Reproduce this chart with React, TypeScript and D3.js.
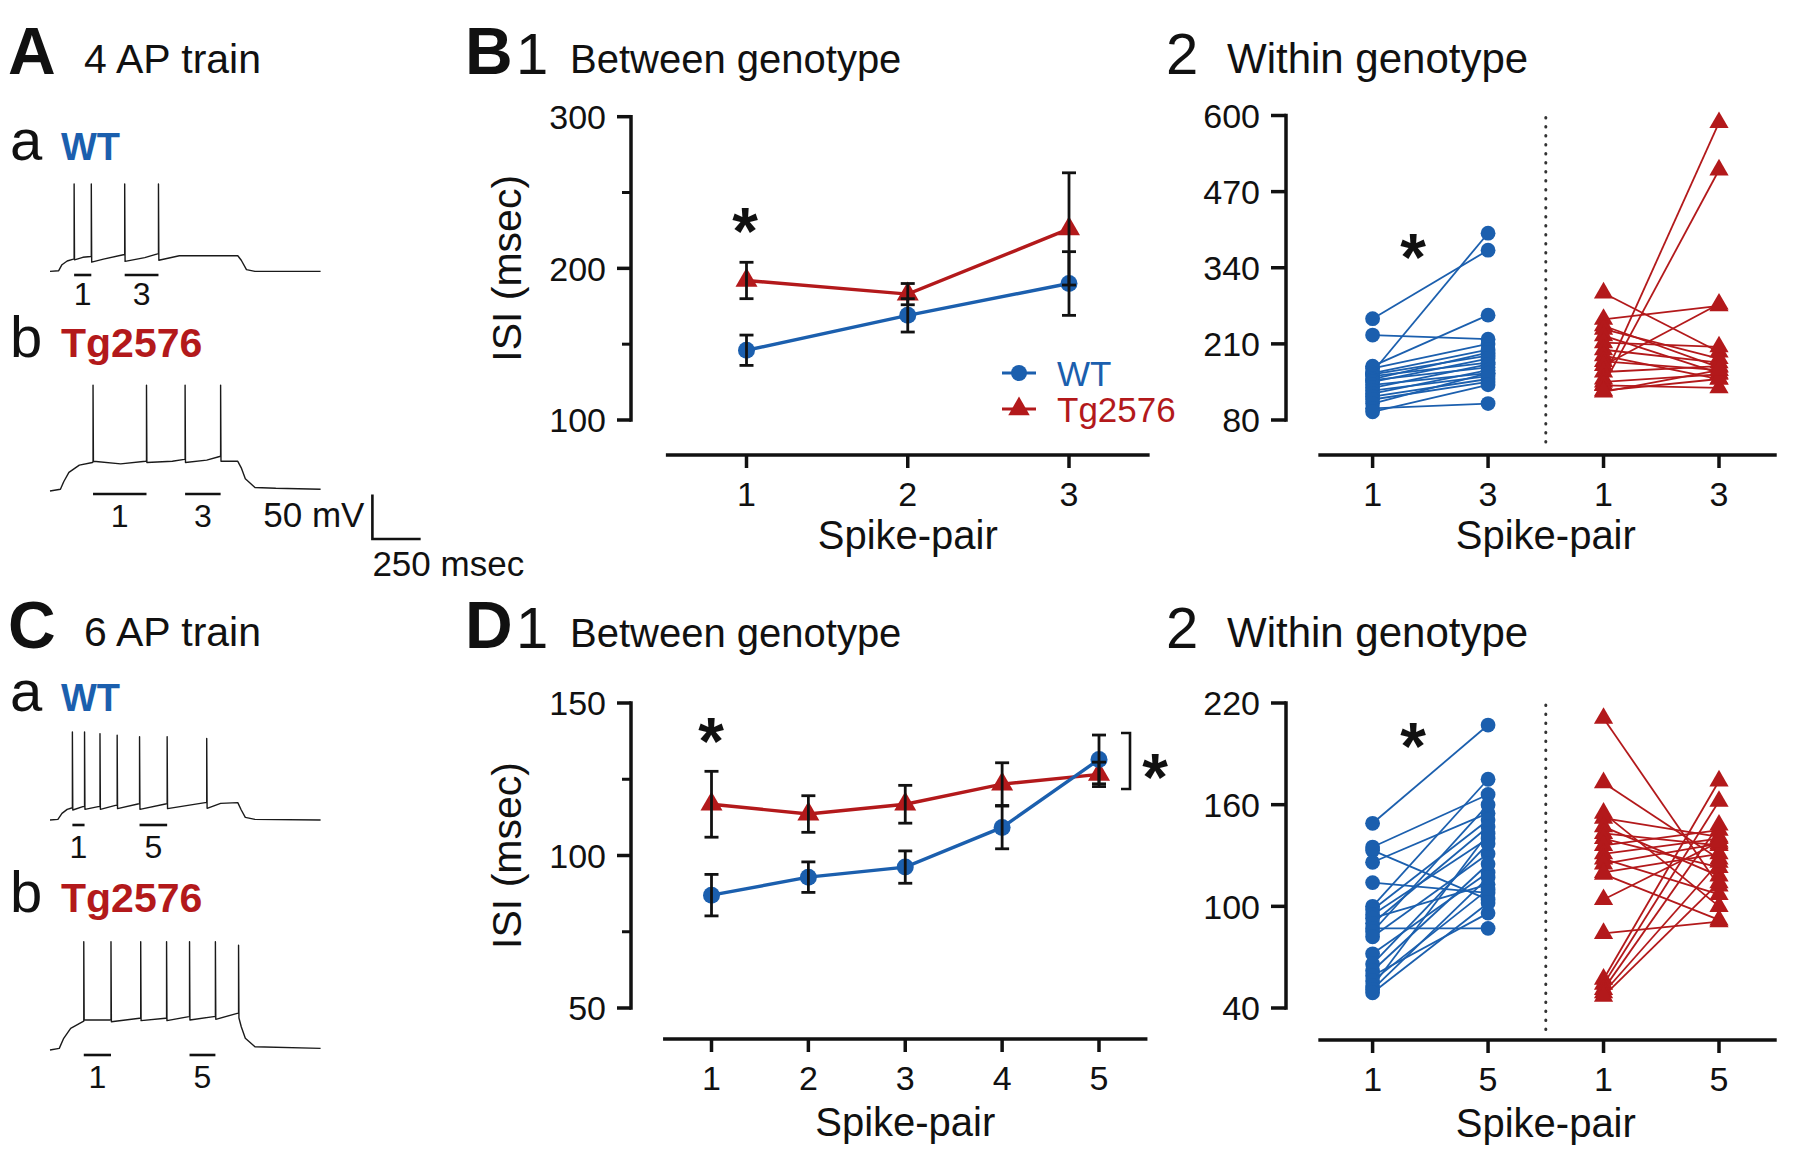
import React from "react";
import * as d3 from "d3";

const BLUE = "#1b5fae";
const RED = "#b3191b";
const INK = "#111";
const FONT = "Liberation Sans, Arial, Helvetica, sans-serif";

// ---------- Panel B1 (4 AP train, between genotype) ----------
const b1Pairs = [1, 2, 3];
const b1WT = [146, 169, 190];
const b1WTErr = [10, 11, 21];
const b1Tg = [192, 183, 226];
const b1TgErr = [12, 7, 37];
const b1Ticks = [100, 200, 300];
const b1Minor = [150, 250];

// ---------- Panel D1 (6 AP train, between genotype) ----------
const d1Pairs = [1, 2, 3, 4, 5];
const d1WT = [87, 92.9, 96.2, 109.2, 131.5];
const d1WTErr = [6.8, 5, 5.3, 7, 8];
const d1Tg = [116.8, 113.6, 116.8, 123.4, 126.6];
const d1TgErr = [10.8, 6, 6.2, 7, 4];
const d1Ticks = [50, 100, 150];
const d1Minor = [75, 125];

// ---------- Panel B2 (4 AP, within genotype): [pair 1, pair 3] ----------
const b2Cats = ["1", "3", "1", "3"];
const b2Ticks = [80, 210, 340, 470, 600];
const b2WT: [number, number][] = [
  [253, 370], [225, 218], [162, 399], [172, 259], [168, 210], [160, 200], [158, 190],
  [155, 178], [150, 195], [148, 170], [145, 185], [140, 160], [135, 175], [130, 155],
  [125, 165], [120, 150], [115, 145], [108, 160], [100, 108], [94, 140],
];
const b2Tg: [number, number][] = [
  [297, 196], [252, 275], [241, 170], [235, 185], [224, 160], [212, 205], [200, 178],
  [190, 150], [180, 165], [173, 278], [162, 172], [150, 588], [140, 507], [145, 158],
  [139, 135], [130, 150], [128, 165],
];

// ---------- Panel D2 (6 AP, within genotype): [pair 1, pair 5] ----------
const d2Cats = ["1", "5", "1", "5"];
const d2Ticks = [40, 100, 160, 220];
const d2WT: [number, number][] = [
  [149, 207], [135, 166], [133, 104], [126, 155], [114, 108], [100, 175], [98, 151],
  [95, 140], [93, 113], [90, 147], [87, 87], [85, 160], [82, 131], [72, 120], [66, 137],
  [62, 125], [59, 96], [56, 110], [53, 143], [51, 117], [49, 102],
];
const d2Tg: [number, number][] = [
  [211, 112], [173, 128], [155, 100], [152, 141], [147, 118], [143, 136], [140, 123],
  [136, 145], [131, 140], [128, 107], [125, 137], [120, 131], [119, 92], [104, 138],
  [84, 91], [57, 174], [54, 162], [51, 148], [49, 126], [47, 114],
];

// ---------- Example traces: [time (ms), membrane potential above rest (mV)] ----------
const traceA_WT: [number, number][] = [
  [0, 0], [45, 0.8], [62, 7.5], [89, 11.7], [121, 13.7], [125, 14], [125, 98], [127, 13],
  [170, 15.8], [211, 16.7], [214, 17], [214, 98], [216, 10.4], [277, 13.7], [380, 18.7],
  [387, 19], [387, 98], [389, 11.2], [491, 15.4], [557, 19.6], [562, 20], [562, 98],
  [564, 12.5], [670, 17.5], [973, 17.5], [991, 12.5], [1018, 2], [1062, 0], [1402, 0],
];
const traceA_Tg: [number, number][] = [
  [0, 0], [54, 2], [71, 10.4], [98, 20.8], [152, 29], [220, 32], [223, 32.5], [223, 118.7],
  [225, 33.3], [366, 30.4], [495, 33.3], [500, 33.5], [500, 118.7], [502, 32], [634, 33.3],
  [696, 35.4], [700, 35.6], [700, 118.7], [702, 32], [812, 34.6], [879, 38.7], [884, 39],
  [884, 118.7], [886, 33.3], [973, 33.3], [991, 26], [1012, 13.7], [1062, 4], [1170, 3],
  [1402, 2],
];
const traceC_WT: [number, number][] = [
  [0, 0], [41, 0.8], [62, 8.3], [89, 13.3], [112, 15], [116, 15.5], [116, 110], [118, 12.5],
  [170, 16.7], [179, 17], [179, 110], [181, 13.3], [250, 16.7], [259, 17], [259, 108],
  [261, 13.3], [339, 18.3], [348, 18.5], [348, 106], [350, 14.2], [455, 20], [464, 20.5],
  [464, 104], [466, 13.3], [598, 20], [607, 20.5], [607, 104], [609, 14.2], [804, 21.7],
  [812, 22], [812, 102], [814, 14.6], [884, 20.8], [973, 21.7], [991, 12.5], [1012, 3.3],
  [1062, 0.8], [1402, 0],
];
const traceC_Tg: [number, number][] = [
  [0, 0], [48, 2], [71, 14.6], [107, 27], [170, 35.4], [175, 36], [175, 135.4], [177, 37.5],
  [309, 37.5], [316, 38], [316, 135.4], [318, 35.4], [464, 39.6], [470, 40], [470, 135.4],
  [472, 36.7], [598, 39.6], [604, 40], [604, 135.4], [606, 36.7], [720, 41.7], [723, 42],
  [723, 135.4], [725, 37.5], [848, 41.7], [857, 42], [857, 135.4], [859, 38.3], [970, 45.8],
  [977, 46], [977, 131], [979, 40], [991, 29], [1012, 14.6], [1062, 4], [1402, 2],
];
// spike-pair marker bars: [label, from ms, to ms]
const barsA_WT: [string, number, number][] = [["1", 125, 214], ["3", 387, 562]];
const barsA_Tg: [string, number, number][] = [["1", 223, 500], ["3", 700, 884]];
const barsC_WT: [string, number, number][] = [["1", 116, 179], ["5", 464, 607]];
const barsC_Tg: [string, number, number][] = [["1", 175, 316], ["5", 723, 857]];
const scaleBarMv = 50;
const scaleBarMs = 250;

const PX_PER_MS = 0.193;

function Trace({ pts, bars, x0, y0, pxMv, barY, labelY }: any) {
  const x = d3.scaleLinear().domain([0, 1000]).range([x0, x0 + 1000 * PX_PER_MS]);
  const y = d3.scaleLinear().domain([0, 100]).range([y0, y0 - 100 * pxMv]);
  const path = d3.line<[number, number]>().x((d) => x(d[0])).y((d) => y(d[1]))(pts) || "";
  return (
    <g>
      <path d={path} fill="none" stroke="#1a1a1a" strokeWidth={1.4} strokeLinejoin="round" />
      {bars.map((b: [string, number, number], i: number) => (
        <g key={i}>
          <line x1={x(b[1])} x2={x(b[2])} y1={barY} y2={barY} stroke={INK} strokeWidth={2.6} />
          <text x={(x(b[1]) + x(b[2])) / 2} y={labelY} fontSize={32} textAnchor="middle" fill={INK}>
            {b[0]}
          </text>
        </g>
      ))}
    </g>
  );
}

function Asterisk({ x, y, size = 66 }: any) {
  return (
    <text x={x} y={y + size * 0.58} fontSize={size} fontWeight="bold" textAnchor="middle" fill={INK}>
      *
    </text>
  );
}

const triPath = (size: number) => d3.symbol().type(d3.symbolTriangle).size(size)() || "";

function YAxis({ y, ticks, minor, axisX, tickLen = 14 }: any) {
  const [y0, y1] = [y(ticks[0]), y(ticks[ticks.length - 1])];
  return (
    <g>
      <line x1={axisX} x2={axisX} y1={y1} y2={y0} stroke={INK} strokeWidth={3.5} strokeLinecap="square" />
      {ticks.map((t: number) => (
        <g key={t}>
          <line x1={axisX - tickLen} x2={axisX} y1={y(t)} y2={y(t)} stroke={INK} strokeWidth={3.5} />
          <text x={axisX - tickLen - 11} y={y(t)} dy="0.36em" fontSize={34} textAnchor="end" fill={INK}>
            {t}
          </text>
        </g>
      ))}
      {(minor || []).map((t: number) => (
        <line key={"m" + t} x1={axisX - 9} x2={axisX} y1={y(t)} y2={y(t)} stroke={INK} strokeWidth={3} />
      ))}
    </g>
  );
}

function XAxis({ x, ticks, labels, from, to, axisY, labelY, title, titleX, titleY }: any) {
  return (
    <g>
      <line x1={x(from)} x2={x(to)} y1={axisY} y2={axisY} stroke={INK} strokeWidth={3.5} />
      {ticks.map((t: number, i: number) => (
        <g key={i}>
          <line x1={x(t)} x2={x(t)} y1={axisY} y2={axisY + 13} stroke={INK} strokeWidth={3.5} />
          <text x={x(t)} y={labelY} fontSize={34} textAnchor="middle" fill={INK}>
            {labels[i]}
          </text>
        </g>
      ))}
      <text x={titleX} y={titleY} fontSize={40} textAnchor="middle" fill={INK}>
        {title}
      </text>
    </g>
  );
}

function MeanPanel({ cfg }: any) {
  const x = d3.scaleLinear().domain([cfg.pairs[0], cfg.pairs[cfg.pairs.length - 1]]).range(cfg.xRange);
  const y = d3.scaleLinear().domain(cfg.yDomain).range(cfg.yRange);
  const lineGen = d3.line<number>().x((_, i) => x(cfg.pairs[i])).y((d) => y(d));
  const series = [
    { vals: cfg.tg, err: cfg.tgErr, color: RED, shape: "tri" },
    { vals: cfg.wt, err: cfg.wtErr, color: BLUE, shape: "circle" },
  ];
  const midY = (cfg.yRange[0] + cfg.yRange[1]) / 2;
  return (
    <g>
      <YAxis y={y} ticks={cfg.ticks} minor={cfg.minor} axisX={cfg.axisX} />
      <text
        transform={`translate(${cfg.axisX - 110},${midY}) rotate(-90)`}
        fontSize={41}
        textAnchor="middle"
        fill={INK}
      >
        ISI (msec)
      </text>
      <XAxis
        x={x}
        ticks={cfg.pairs}
        labels={cfg.pairs.map(String)}
        from={cfg.pairs[0] - 0.5}
        to={cfg.pairs[cfg.pairs.length - 1] + 0.5}
        axisY={cfg.xAxisY}
        labelY={cfg.xAxisY + 51}
        title="Spike-pair"
        titleX={x((cfg.pairs[0] + cfg.pairs[cfg.pairs.length - 1]) / 2)}
        titleY={cfg.xAxisY + cfg.titleOff}
      />
      {series.map((s, k) => (
        <g key={k}>
          <path d={lineGen(s.vals) || ""} fill="none" stroke={s.color} strokeWidth={3.4} />
          {s.vals.map((v: number, i: number) =>
            s.shape === "circle" ? (
              <circle key={i} cx={x(cfg.pairs[i])} cy={y(v)} r={8.5} fill={s.color} />
            ) : (
              <path key={i} d={triPath(210)} transform={`translate(${x(cfg.pairs[i])},${y(v)})`} fill={s.color} />
            )
          )}
        </g>
      ))}
      {series.map((s, k) => (
        <g key={"e" + k}>
          {s.vals.map((v: number, i: number) => {
            const cx = x(cfg.pairs[i]);
            const hi = y(v + s.err[i]);
            const lo = y(v - s.err[i]);
            return (
              <g key={i} stroke={INK} strokeWidth={2.8}>
                <line x1={cx} x2={cx} y1={hi} y2={lo} />
                <line x1={cx - 7} x2={cx + 7} y1={hi} y2={hi} />
                <line x1={cx - 7} x2={cx + 7} y1={lo} y2={lo} />
              </g>
            );
          })}
        </g>
      ))}
    </g>
  );
}

function PairedPanel({ cfg }: any) {
  const x = d3.scaleLinear().domain([0, 3]).range(cfg.xRange);
  const y = d3.scaleLinear().domain(cfg.yDomain).range(cfg.yRange);
  const groups = [
    { data: cfg.wt, off: 0, color: BLUE, shape: "circle" },
    { data: cfg.tg, off: 2, color: RED, shape: "tri" },
  ];
  return (
    <g>
      <YAxis y={y} ticks={cfg.ticks} axisX={cfg.axisX} tickLen={15} />
      <line
        x1={x(1.5)}
        x2={x(1.5)}
        y1={cfg.yRange[1] + 2}
        y2={cfg.xAxisY - 8}
        stroke="#333"
        strokeWidth={3}
        strokeDasharray="0.5 8.5"
        strokeLinecap="round"
      />
      <XAxis
        x={x}
        ticks={[0, 1, 2, 3]}
        labels={cfg.cats}
        from={-0.47}
        to={3.5}
        axisY={cfg.xAxisY}
        labelY={cfg.xAxisY + 51}
        title="Spike-pair"
        titleX={x(1.5)}
        titleY={cfg.xAxisY + cfg.titleOff}
      />
      {groups.map((g, k) => (
        <g key={k}>
          {g.data.map((p: [number, number], i: number) => (
            <line
              key={i}
              x1={x(g.off)}
              x2={x(g.off + 1)}
              y1={y(p[0])}
              y2={y(p[1])}
              stroke={g.color}
              strokeWidth={1.8}
            />
          ))}
          {g.data.map((p: [number, number], i: number) =>
            [0, 1].map((j) =>
              g.shape === "circle" ? (
                <circle key={i + "-" + j} cx={x(g.off + j)} cy={y(p[j])} r={7.4} fill={g.color} />
              ) : (
                <path
                  key={i + "-" + j}
                  d={triPath(160)}
                  transform={`translate(${x(g.off + j)},${y(p[j])})`}
                  fill={g.color}
                />
              )
            )
          )}
        </g>
      ))}
    </g>
  );
}

const T = (props: any) => <text fill={INK} {...props} />;

export default function App() {
  const mvA = 0.892;
  const mvC = 0.8;
  const sbX = 372.4;
  const sbY = 539;
  return (
    <svg
      width={1798}
      height={1161}
      style={{ position: "absolute", left: 0, top: 0, background: "#fff" }}
      fontFamily={FONT}
    >
      <rect width={1798} height={1161} fill="#fff" />

      {/* ---- Panel A ---- */}
      <T x={8} y={74} fontSize={66} fontWeight="bold">A</T>
      <T x={84} y={73} fontSize={41}>4 AP train</T>
      <T x={10} y={160} fontSize={58}>a</T>
      <text x={61} y={160} fontSize={38} fontWeight="bold" fill={BLUE}>WT</text>
      <Trace pts={traceA_WT} bars={barsA_WT} x0={50} y0={271.4} pxMv={mvA} barY={275} labelY={305} />
      <T x={10} y={357} fontSize={58}>b</T>
      <text x={61} y={357} fontSize={41} fontWeight="bold" fill={RED}>Tg2576</text>
      <Trace pts={traceA_Tg} bars={barsA_Tg} x0={50} y0={491} pxMv={mvA} barY={494} labelY={527} />
      {/* scale bar */}
      <path
        d={`M${sbX},${sbY - scaleBarMv * mvA}V${sbY}H${sbX + scaleBarMs * PX_PER_MS}`}
        fill="none"
        stroke={INK}
        strokeWidth={2.6}
      />
      <T x={sbX - 8} y={527} fontSize={35} textAnchor="end">{scaleBarMv} mV</T>
      <T x={sbX} y={576} fontSize={35}>{scaleBarMs} msec</T>

      {/* ---- Panel C ---- */}
      <T x={8} y={648} fontSize={66} fontWeight="bold">C</T>
      <T x={84} y={646} fontSize={41}>6 AP train</T>
      <T x={10} y={711} fontSize={58}>a</T>
      <text x={61} y={711} fontSize={38} fontWeight="bold" fill={BLUE}>WT</text>
      <Trace pts={traceC_WT} bars={barsC_WT} x0={50} y0={820} pxMv={mvC} barY={825} labelY={858} />
      <T x={10} y={912} fontSize={58}>b</T>
      <text x={61} y={912} fontSize={41} fontWeight="bold" fill={RED}>Tg2576</text>
      <Trace pts={traceC_Tg} bars={barsC_Tg} x0={50} y0={1050} pxMv={mvC} barY={1055} labelY={1088} />

      {/* ---- Titles B / D ---- */}
      <T x={465} y={74} fontSize={66} fontWeight="bold">B</T>
      <T x={516} y={74} fontSize={58}>1</T>
      <T x={570} y={73} fontSize={40}>Between genotype</T>
      <T x={1166} y={74} fontSize={58}>2</T>
      <T x={1227} y={73} fontSize={42}>Within genotype</T>

      <T x={465} y={648} fontSize={66} fontWeight="bold">D</T>
      <T x={516} y={648} fontSize={58}>1</T>
      <T x={570} y={647} fontSize={40}>Between genotype</T>
      <T x={1166} y={648} fontSize={58}>2</T>
      <T x={1227} y={647} fontSize={42}>Within genotype</T>

      {/* ---- B1 ---- */}
      <MeanPanel
        cfg={{
          pairs: b1Pairs, wt: b1WT, wtErr: b1WTErr, tg: b1Tg, tgErr: b1TgErr,
          ticks: b1Ticks, minor: b1Minor, yDomain: [100, 300], yRange: [420, 116.7],
          xRange: [746.5, 1069], axisX: 631, xAxisY: 455, titleOff: 94,
        }}
      />
      <Asterisk x={745} y={216} />
      {/* legend */}
      <line x1={1002} x2={1036} y1={373} y2={373} stroke={BLUE} strokeWidth={3.2} />
      <circle cx={1019} cy={373} r={8} fill={BLUE} />
      <text x={1057} y={385.5} fontSize={35} fill={BLUE}>WT</text>
      <line x1={1002} x2={1036} y1={409} y2={409} stroke={RED} strokeWidth={3.2} />
      <path d={triPath(200)} transform="translate(1019,409)" fill={RED} />
      <text x={1057} y={421.5} fontSize={35} fill={RED}>Tg2576</text>

      {/* ---- B2 ---- */}
      <PairedPanel
        cfg={{
          wt: b2WT, tg: b2Tg, cats: b2Cats, ticks: b2Ticks, yDomain: [80, 600],
          yRange: [420, 115.5], xRange: [1372.6, 1719], axisX: 1286, xAxisY: 455, titleOff: 94,
        }}
      />
      <Asterisk x={1413} y={242} />

      {/* ---- D1 ---- */}
      <MeanPanel
        cfg={{
          pairs: d1Pairs, wt: d1WT, wtErr: d1WTErr, tg: d1Tg, tgErr: d1TgErr,
          ticks: d1Ticks, minor: d1Minor, yDomain: [50, 150], yRange: [1008, 703],
          xRange: [711.5, 1099], axisX: 631, xAxisY: 1039, titleOff: 97,
        }}
      />
      <Asterisk x={711} y={726} />
      <path d="M1121,733H1130V789H1121" fill="none" stroke={INK} strokeWidth={2.6} />
      <Asterisk x={1155} y={762} />

      {/* ---- D2 ---- */}
      <PairedPanel
        cfg={{
          wt: d2WT, tg: d2Tg, cats: d2Cats, ticks: d2Ticks, yDomain: [40, 220],
          yRange: [1008, 703], xRange: [1372.6, 1719], axisX: 1286, xAxisY: 1040, titleOff: 97,
        }}
      />
      <Asterisk x={1413} y={731} />
    </svg>
  );
}
